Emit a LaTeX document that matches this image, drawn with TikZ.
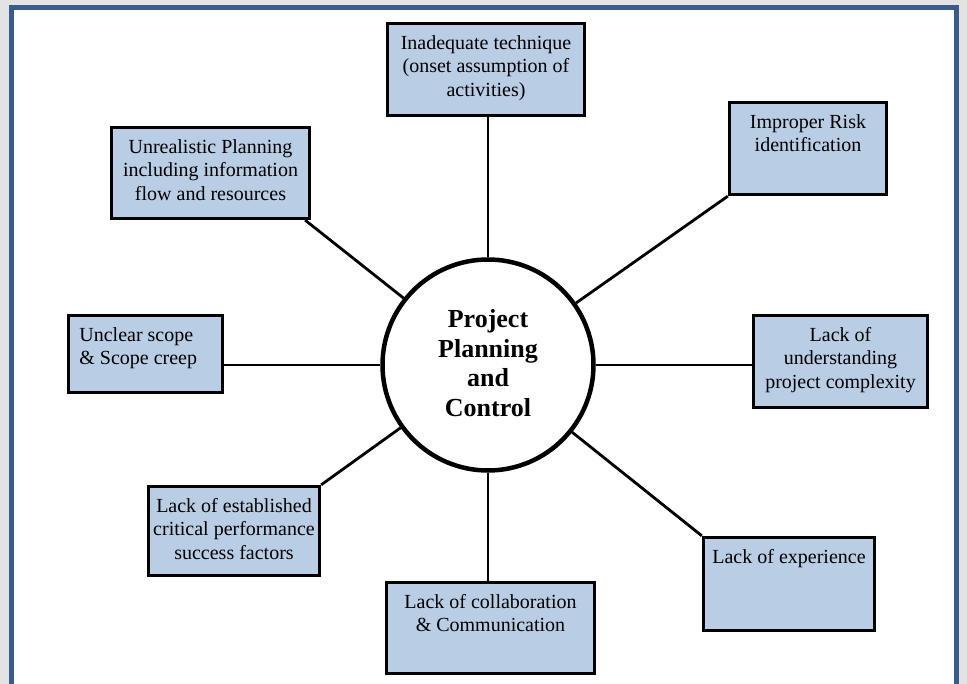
\documentclass[tikz,border=0pt]{standalone}
\usepackage{fontspec}
\setmainfont{Liberation Serif}
\usetikzlibrary{positioning}
\definecolor{causefill}{HTML}{B9CDE5}
\definecolor{frameblue}{HTML}{385D8A}
\tikzset{
  cause/.style={draw, line width=3.3pt, fill=causefill, inner sep=0pt},
  causetext/.style={anchor=north, yshift=-10pt, align=center, font=\fontsize{20}{23.5}\selectfont},
  spoke/.style={line width=2.8pt},
}

\begin{document}
\begin{tikzpicture}[x=1pt,y=-1pt]
	\useasboundingbox (0,0) rectangle (967,684);
	\fill[gray!22] (0,0) rectangle (967,684);
	\draw[frameblue, line width=5pt, fill=white] (11.5,7.5) rectangle (956,686);
	% centre
	\node[circle, draw, line width=4.5pt, fill=white, minimum size=211pt, inner sep=0pt, align=center, font=\bfseries\fontsize{26}{29.5}\selectfont] (pc) at (488,365) {\raisebox{4pt}{Project}\\\raisebox{4pt}{Planning}\\\raisebox{4pt}{and}\\\raisebox{4pt}{Control}};
	% causes
	\node[cause, minimum width=197pt, minimum height=92pt, label={[causetext]north:{Inadequate technique\\(onset assumption of\\activities)}}] (tech) at (486,69.5) {};
	\node[cause, minimum width=157pt, minimum height=92pt, label={[causetext]north:{Improper Risk\\identification}}] (risk) at (808,148.5) {};
	\node[cause, minimum width=198pt, minimum height=91pt, label={[causetext]north:{Unrealistic Planning\\including information\\flow and resources}}] (unreal) at (210.5,173) {};
	\node[cause, minimum width=154pt, minimum height=77pt, label={[causetext, anchor=north west, align=left, xshift=9pt]north west:{Unclear scope\\\& Scope creep}}] (unclear) at (145.5,354) {};
	\node[cause, minimum width=174pt, minimum height=92pt, label={[causetext]north:{Lack of\\understanding\\project complexity}}] (underst) at (840.5,361.5) {};
	\node[cause, minimum width=171pt, minimum height=89pt, label={[causetext]north:{Lack of established\\critical performance\\success factors}}] (estab) at (234,531) {};
	\node[cause, minimum width=208pt, minimum height=91pt, label={[causetext]north:{Lack of collaboration\\\& Communication}}] (collab) at (490.5,628) {};
	\node[cause, minimum width=171pt, minimum height=93pt, label={[causetext]north:{Lack of experience}}] (exper) at (789,584) {};
	% spokes
	\draw[spoke] (pc) -- (pc |- tech.south);
	\draw[spoke] (pc) -- (risk.south west);
	\draw[spoke] (pc) -- (underst.west |- pc);
	\draw[spoke] (pc) -- (exper.north west);
	\draw[spoke] (pc) -- (pc |- collab.north);
	\draw[spoke] (pc) -- (estab.north east);
	\draw[spoke] (pc) -- (unclear.east |- pc);
	\draw[spoke] (pc) -- ([xshift=-6pt]unreal.south east);
\end{tikzpicture}
\end{document}
